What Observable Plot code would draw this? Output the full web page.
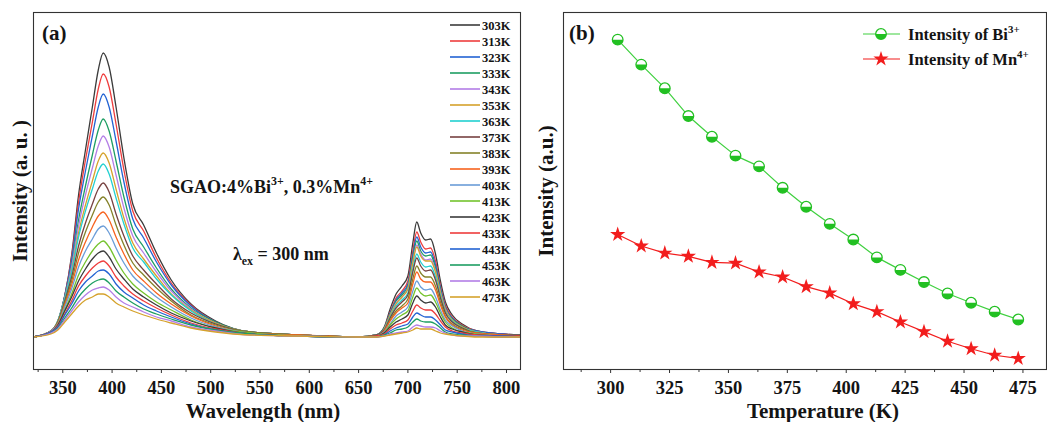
<!DOCTYPE html>
<html><head><meta charset="utf-8">
<script src="https://cdn.jsdelivr.net/npm/d3@7"></script>
<script src="https://cdn.jsdelivr.net/npm/@observablehq/plot@0.6"></script>
<style>
html,body{margin:0;padding:0;background:#fff;}
body{width:1047px;height:422px;overflow:hidden;position:relative;}
#a{position:absolute;left:0;top:0;}
#b{position:absolute;left:530px;top:0;}
svg{overflow:visible;}
</style></head><body><div id="a"></div><div id="b"></div>
<script>
// ---------- Panel (a): emission spectra ----------
const wavelength = [320,338,345,352,359,366,373,380,386,391,397,404,412,421,432,445,460,480,505,540,590,650,
  668,676,682,688,694,700,705,709,713,718,723,728,733,738,745,755,770,795,815];
const temps = [303,313,323,333,343,353,363,373,383,393,403,413,423,433,443,453,463,473];
const s303 = [0,4,14,41,82,142,187,230,267,284,270,230,179,133,112,84,57,33,16,5,2,0, 2,10,28,43,51,61,94,115,104,97,98,83,56,35,22,13,6,3,2];
const s313 = [0,5,15,41,80,135,177,215,248,263,250,213,167,126,106,79,54,32,15,5,2,0, 2,9,25,39,46,56,86,105,95,88,89,76,51,32,20,12,6,3,2];
const s323 = [0,5,16,41,77,128,166,201,230,243,230,196,155,118,99,75,52,31,15,5,2,0, 2,9,24,37,44,53,82,100,90,84,85,72,49,30,19,11,6,3,2];
const s333 = [0,6,16,40,72,117,151,182,207,218,206,176,140,108,90,69,48,29,15,5,2,0, 2,9,23,36,42,51,79,96,86,81,82,69,47,29,18,11,5,2,2];
const s343 = [0,6,16,39,70,111,142,169,191,201,190,162,129,101,84,65,46,28,14,5,2,0, 2,8,22,34,40,49,75,92,83,77,78,66,45,28,17,10,5,2,2];
const s353 = [0,6,16,38,66,104,132,156,176,184,174,148,119,94,78,61,43,27,14,5,2,0, 2,8,22,33,40,48,74,90,81,76,76,65,44,27,17,10,5,2,2];
const s363 = [0,6,16,38,65,100,126,148,166,173,163,139,113,89,75,58,42,26,13,5,2,0, 2,7,20,31,37,44,68,83,75,70,71,60,41,25,16,9,5,2,2];
const s373 = [0,6,15,36,60,91,114,133,148,154,145,123,101,81,67,53,38,24,13,5,2,0, 2,7,19,29,35,42,65,79,71,66,67,57,39,24,15,9,4,2,2];
const s383 = [0,6,15,34,56,84,105,122,135,140,132,112,92,74,62,49,36,22,12,5,2,0, 1,6,17,26,31,38,58,71,64,60,60,51,35,21,13,8,4,2,1];
const s393 = [0,6,14,32,52,77,95,110,121,125,117,100,83,67,56,44,33,21,11,4,2,0, 1,6,16,24,29,34,53,65,58,55,55,47,32,20,12,7,4,2,1];
const s403 = [0,6,13,30,48,70,86,98,108,111,104,89,74,61,51,40,30,19,10,4,1,0, 1,5,13,21,25,30,46,56,50,47,48,40,27,17,11,6,3,1,1];
const s413 = [0,5,12,27,43,62,75,86,93,96,90,77,64,53,44,35,27,17,9,4,1,0, 1,4,12,18,22,26,40,49,44,41,42,35,24,15,9,5,3,1,1];
const s423 = [0,5,12,26,40,56,68,78,84,86,80,68,58,48,40,32,24,16,9,3,1,0, 1,4,10,15,18,22,34,41,37,34,35,30,20,12,8,5,2,1,1];
const s433 = [0,5,11,23,36,51,61,69,74,76,71,60,51,43,36,29,22,14,8,3,1,0, 1,3,8,12,14,17,26,32,29,27,27,23,16,10,6,4,2,1,1];
const s443 = [0,5,10,22,33,46,55,61,66,67,63,53,45,39,32,26,20,13,7,3,1,0, 0,2,6,9,11,13,20,24,22,20,20,17,12,7,5,3,1,1,0];
const s453 = [0,4,9,19,29,40,48,54,57,58,54,46,40,34,28,23,18,12,7,3,1,0, 0,2,4,7,8,10,15,18,16,15,15,13,9,5,3,2,1,0,0];
const s463 = [0,4,8,17,26,35,42,47,49,50,47,40,34,30,25,20,16,10,6,2,1,0, 0,1,3,4,5,6,10,12,11,10,10,9,6,4,2,1,1,0,0];
const s473 = [0,3,7,15,23,31,37,40,43,43,40,34,30,26,22,18,14,9,5,2,1,0, 0,1,2,3,4,5,7,9,8,8,8,6,4,3,2,1,0,0,0];
const spectra = [s303,s313,s323,s333,s343,s353,s363,s373,s383,s393,s403,s413,s423,s433,s443,s453,s463,s473];
const curveColors = ["#3b3b3b","#ee3d3d","#2363d3","#1e9e63","#b37ee6","#d5a22c","#22d0d0","#774241","#85822a","#f7631f","#6b9dd8","#74c32d",
                     "#3b3b3b","#ee3d3d","#2363d3","#1e9e63","#b37ee6","#d5a22c"];
const xTicksA = [350,400,450,500,550,600,650,700,750,800];
const xMinorA = [325,375,425,475,525,575,625,675,725,775];

// ---------- Panel (b): integrated intensities ----------
const temperatureK = [303,313,323,333,343,353,363,373,383,393,403,413,423,433,443,453,463,473];
const biIntensity = [92.4,85.4,78.8,71.0,65.2,59.9,56.9,50.9,45.6,40.8,36.4,31.4,27.9,24.5,21.3,18.7,16.2,14.0];
const mnIntensity = [37.8,34.6,32.6,31.7,30.0,29.8,27.3,25.9,23.2,21.4,18.4,16.2,13.3,10.6,7.9,5.8,4.0,3.1];
const xTicksB = [300,325,350,375,400,425,450,475];
const xMinorB = [287.5,312.5,337.5,362.5,387.5,412.5,437.5,462.5];

const FONT = "'Liberation Serif','Times New Roman',serif";
const INK = "#141414";
const AXIS = "#333";

const rowsA = [];
temps.forEach((t, i) => spectra[i].forEach((v, j) => rowsA.push({w: wavelength[j], v, t})));

const plotA = Plot.plot({
  width: 530, height: 422,
  marginLeft: 33, marginRight: 10, marginTop: 12, marginBottom: 53,
  x: {domain: [320.3, 814.2]},
  y: {domain: [-32.5, 324.5], axis: null},
  color: {type: "ordinal", domain: temps, range: curveColors},
  style: {fontFamily: FONT, fontWeight: "bold", fontSize: "18px", color: INK, background: "transparent"},
  marks: [
    Plot.line(rowsA, {x: "w", y: "v", z: "t", stroke: "t", strokeWidth: 1.3, curve: "monotone-x", clip: true}),
    Plot.frame({stroke: AXIS, strokeWidth: 1.1}),
    Plot.axisX(xTicksA, {tickSize: 4, tickPadding: 7, label: null, stroke: AXIS, fontSize: 18.5, fontWeight: "bold"}),
    Plot.axisX(xMinorA, {tickSize: 3, tickFormat: () => "", label: null, stroke: AXIS}),
    Plot.text(["Wavelength (nm)"], {text: d => d, frameAnchor: "bottom", dy: 42, dx: -14, lineAnchor: "middle", fontSize: 21, fontWeight: "bold", fill: INK}),
    Plot.text(["Intensity (a. u. )"], {text: d => d, frameAnchor: "left", rotate: -90, dx: -13, textAnchor: "middle", fontSize: 21, fontWeight: "bold", fill: INK})
  ]
});
document.getElementById("a").appendChild(plotA);

const rowsB = temperatureK.map((t, i) => ({t, bi: biIntensity[i], mn: mnIntensity[i]}));
const GREEN_LINE = "#3fd03f", GREEN = "#22c022", RED = "#f21d1d";
const halfDisk = {draw(ctx, size) { const r = Math.sqrt(size / Math.PI); ctx.moveTo(r, 0); ctx.arc(0, 0, r, 0, Math.PI); ctx.closePath(); }};

const plotB = Plot.plot({
  width: 517, height: 422,
  marginLeft: 33, marginRight: 1, marginTop: 12, marginBottom: 53,
  x: {domain: [280, 485]},
  y: {domain: [0, 100], axis: null},
  style: {fontFamily: FONT, fontWeight: "bold", fontSize: "18px", color: INK, background: "transparent"},
  marks: [
    Plot.frame({stroke: AXIS, strokeWidth: 1.1}),
    Plot.line(rowsB, {x: "t", y: "bi", stroke: GREEN_LINE, strokeWidth: 1.2}),
    Plot.line(rowsB, {x: "t", y: "mn", stroke: RED, strokeWidth: 1.2}),
    Plot.dot(rowsB, {x: "t", y: "bi", r: 5.3, fill: "white", stroke: GREEN, strokeWidth: 1.3}),
    Plot.dot(rowsB, {x: "t", y: "bi", r: 5.3, symbol: halfDisk, fill: GREEN}),
    Plot.dot(rowsB, {x: "t", y: "mn", r: 4.8, symbol: "star", fill: RED}),
    Plot.axisX(xTicksB, {tickSize: 4, tickPadding: 7, label: null, stroke: AXIS, fontSize: 18.5, fontWeight: "bold"}),
    Plot.axisX(xMinorB, {tickSize: 3, tickFormat: () => "", label: null, stroke: AXIS}),
    Plot.text(["Temperature (K)"], {text: d => d, frameAnchor: "bottom", dy: 42, dx: 18, lineAnchor: "middle", fontSize: 21, fontWeight: "bold", fill: INK}),
    Plot.text(["Intensity (a.u.)"], {text: d => d, frameAnchor: "left", rotate: -90, dx: -17, textAnchor: "middle", fontSize: 21, fontWeight: "bold", fill: INK})
  ]
});
document.getElementById("b").appendChild(plotB);

// ---------- annotations & legends ----------
function rich(g, x, y, parts, size) {
  const t = g.append("text").attr("x", x).attr("y", y).attr("font-size", size).attr("text-anchor", "start")
    .attr("font-weight", "bold").attr("font-family", FONT).attr("fill", INK);
  let shift = 0;
  for (const [s, kind] of parts) {
    const ts = t.append("tspan").text(s);
    const target = kind === "sup" ? -0.42 * size : kind === "sub" ? 0.28 * size : 0;
    if (target - shift !== 0) ts.attr("dy", target - shift);
    shift = target;
    if (kind) ts.attr("font-size", size * 0.66);
  }
  return t;
}
const gA = d3.select(plotA).append("g").attr("text-anchor", "start");
rich(gA, 42, 40, [["(a)"]], 21);
rich(gA, 170, 193, [["SGAO:4%Bi"], ["3+", "sup"], [", 0.3%Mn"], ["4+", "sup"]], 18);
rich(gA, 233, 260, [["λ"], ["ex", "sub"], [" = 300 nm"]], 18);
temps.forEach((t, i) => {
  const y = 25 + 16 * i;
  gA.append("line").attr("x1", 450).attr("x2", 480).attr("y1", y).attr("y2", y)
    .attr("stroke", curveColors[i]).attr("stroke-width", 1.6);
  gA.append("text").attr("x", 482).attr("y", y).attr("dy", "0.36em").attr("font-size", 12.5).attr("text-anchor", "start")
    .attr("font-weight", "bold").attr("font-family", FONT).attr("fill", INK).text(t + "K");
});

const gB = d3.select(plotB).append("g").attr("text-anchor", "start");
rich(gB, 39, 40, [["(b)"]], 21);
const legY = [34, 59];
gB.append("line").attr("x1", 333).attr("x2", 370).attr("y1", legY[0]).attr("y2", legY[0]).attr("stroke", GREEN_LINE).attr("stroke-width", 1.2);
gB.append("circle").attr("cx", 351).attr("cy", legY[0]).attr("r", 5.3).attr("fill", "white").attr("stroke", GREEN).attr("stroke-width", 1.3);
gB.append("path").attr("transform", `translate(351,${legY[0]})`).attr("d", d3.symbol(halfDisk, 5.3 * 5.3 * Math.PI)()).attr("fill", GREEN);
rich(gB, 378, legY[0] + 6, [["Intensity of Bi"], ["3+", "sup"]], 16.5);
gB.append("line").attr("x1", 333).attr("x2", 370).attr("y1", legY[1]).attr("y2", legY[1]).attr("stroke", RED).attr("stroke-width", 1.2);
gB.append("path").attr("transform", `translate(351,${legY[1]})`).attr("d", d3.symbol(d3.symbolStar, 4.8 * 4.8 * Math.PI)()).attr("fill", RED);
rich(gB, 378, legY[1] + 6, [["Intensity of Mn"], ["4+", "sup"]], 16.5);
</script>
</body></html>
